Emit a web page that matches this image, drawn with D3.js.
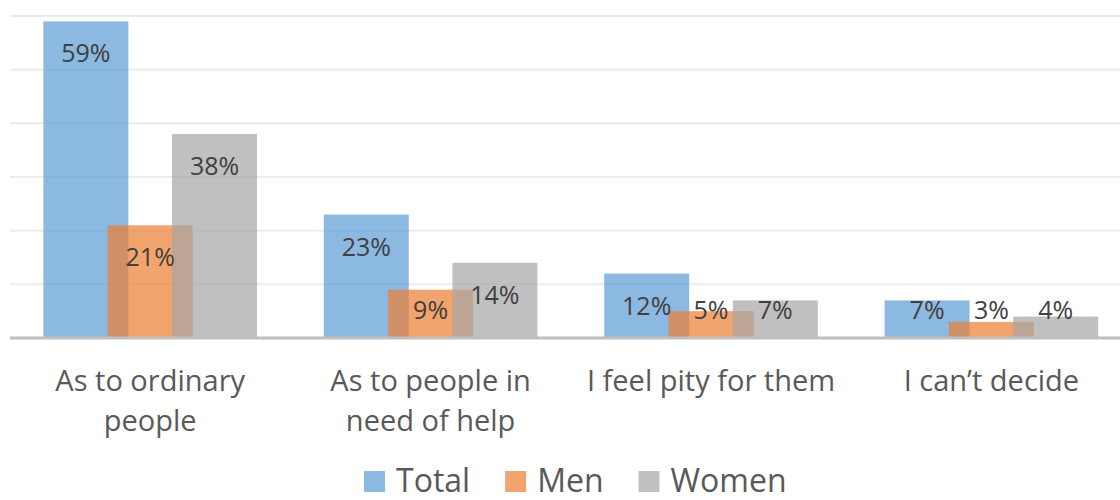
<!DOCTYPE html>
<html>
<head>
<meta charset="utf-8">
<script src="https://cdn.jsdelivr.net/npm/d3@7"></script>
<style>
  html, body { margin: 0; padding: 0; background: #fff; }
  svg { display: block; font-family: "Open Sans", "Noto Sans", sans-serif; }
</style>
</head>
<body>
<svg id="chart" width="1120" height="500"></svg>
<script>
// Attitude survey: share of answers by group
const categories = ["As to ordinary people", "As to people in need of help", "I feel pity for them", "I can\u2019t decide"];
const seriesNames = ["Total", "Men", "Women"];
const totalValues = [59, 23, 12, 7];
const menValues = [21, 9, 5, 3];
const womenValues = [38, 14, 7, 4];
const gridTicks = [0, 10, 20, 30, 40, 50, 60];

const seriesValues = [totalValues, menValues, womenValues];
const seriesColors = ["#5B9BD5", "#ED7D31", "#A5A5A5"];

const svg = d3.select("#chart");

const plot = { left: 10, right: 1131.6, top: 16, bottom: 338 };

const x = d3.scaleBand()
  .domain(categories)
  .range([plot.left, plot.right])
  .paddingInner(0)
  .paddingOuter(0);

const y = d3.scaleLinear()
  .domain([0, 60])
  .range([plot.bottom, plot.top]);

const barW = x.bandwidth() * 0.303;
const overlap = 0.243;
const step = barW * (1 - overlap);
const offset = i => (i - 1) * step;

// horizontal gridlines
svg.append("g")
  .selectAll("line")
  .data(gridTicks.filter(t => t > 0))
  .join("line")
  .attr("x1", plot.left)
  .attr("x2", 1120)
  .attr("y1", d => y(d))
  .attr("y2", d => y(d))
  .attr("stroke", "#ECECEC")
  .attr("stroke-width", 2);

// bars, one layer per series (later series overlap earlier ones)
const rows = [];
seriesValues.forEach((vals, si) => {
  vals.forEach((v, ci) => rows.push({ si, cat: categories[ci], v }));
});

seriesValues.forEach((vals, si) => {
  svg.append("g")
    .selectAll("rect")
    .data(rows.filter(r => r.si === si))
    .join("rect")
    .attr("x", d => x(d.cat) + x.bandwidth() / 2 + offset(si) - barW / 2)
    .attr("width", barW)
    .attr("y", d => y(d.v))
    .attr("height", d => y(0) - y(d.v))
    .attr("fill", seriesColors[si])
    .attr("fill-opacity", 0.7);
});

// baseline axis
svg.append("line")
  .attr("x1", plot.left)
  .attr("x2", 1120)
  .attr("y1", y(0))
  .attr("y2", y(0))
  .attr("stroke", "#BFBFBF")
  .attr("stroke-width", 3);

// value labels near the top of each bar
svg.append("g")
  .selectAll("text")
  .data(rows)
  .join("text")
  .attr("x", d => x(d.cat) + x.bandwidth() / 2 + offset(d.si))
  .attr("y", d => Math.min(y(d.v) + 32, y(0) - 28) + 9)
  .attr("text-anchor", "middle")
  .attr("font-size", 25)
  .attr("fill", "#404040")
  .text(d => d.v + "%");

// category labels, wrapped to the band width
const catG = svg.append("g");
categories.forEach(cat => {
  const t = catG.append("text")
    .attr("text-anchor", "middle")
    .attr("font-size", 29)
    .attr("fill", "#595959");
  const words = cat.split(" ");
  const lines = [];
  let line = [];
  const probe = catG.append("text").attr("font-size", 29);
  words.forEach(w => {
    const trial = line.concat(w).join(" ");
    probe.text(trial);
    if (probe.node().getComputedTextLength() > 258 && line.length) {
      lines.push(line.join(" "));
      line = [w];
    } else {
      line.push(w);
    }
  });
  lines.push(line.join(" "));
  probe.remove();
  lines.forEach((ln, i) => {
    t.append("tspan")
      .attr("x", x(cat) + x.bandwidth() / 2)
      .attr("y", 391 + i * 40)
      .text(ln);
  });
});

// legend
const legend = svg.append("g");
let lx = 364;
seriesNames.forEach((name, i) => {
  legend.append("rect")
    .attr("x", lx)
    .attr("y", 471)
    .attr("width", 21)
    .attr("height", 21)
    .attr("fill", seriesColors[i])
    .attr("fill-opacity", 0.7);
  const txt = legend.append("text")
    .attr("x", lx + 32)
    .attr("y", 492)
    .attr("font-size", 32)
    .attr("fill", "#595959")
    .text(name);
  lx += 32 + txt.node().getComputedTextLength() + 35;
});
</script>
</body>
</html>
